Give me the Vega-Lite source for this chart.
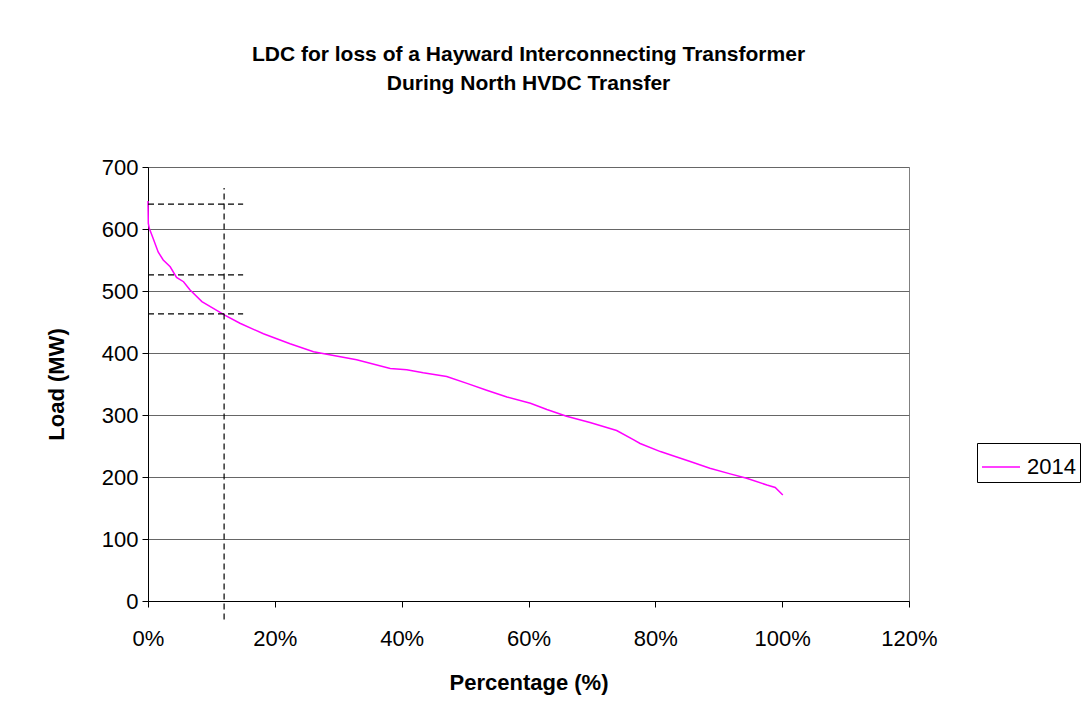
{
  "$schema": "https://vega.github.io/schema/vega-lite/v6.json",
  "width": 761,
  "height": 434,
  "autosize": {"type": "none"},
  "padding": {"left": 148, "top": 167, "right": 179, "bottom": 112},
  "background": "white",
  "config": {
    "font": "Liberation Sans",
    "view": {"stroke": "#808080", "strokeWidth": 1}
  },
  "title": {
    "text": ["LDC for loss of a Hayward Interconnecting Transformer", "During North HVDC Transfer"],
    "font": "Liberation Sans",
    "fontSize": 21,
    "fontWeight": "bold",
    "color": "black",
    "anchor": "middle",
    "frame": "group",
    "lineHeight": 29,
    "offset": 62
  },
  "datasets": {
    "curve": [
      {"pct": 0.0, "load": 645, "series": "2014"},
      {"pct": 0.0005, "load": 609, "series": "2014"},
      {"pct": 0.002, "load": 601, "series": "2014"},
      {"pct": 0.008, "load": 585, "series": "2014"},
      {"pct": 0.016, "load": 563, "series": "2014"},
      {"pct": 0.024, "load": 550, "series": "2014"},
      {"pct": 0.035, "load": 539, "series": "2014"},
      {"pct": 0.045, "load": 522, "series": "2014"},
      {"pct": 0.056, "load": 515, "series": "2014"},
      {"pct": 0.066, "load": 502, "series": "2014"},
      {"pct": 0.085, "load": 483, "series": "2014"},
      {"pct": 0.103, "load": 472, "series": "2014"},
      {"pct": 0.121, "load": 461, "series": "2014"},
      {"pct": 0.145, "load": 448, "series": "2014"},
      {"pct": 0.182, "load": 431, "series": "2014"},
      {"pct": 0.224, "load": 415, "series": "2014"},
      {"pct": 0.261, "load": 402, "series": "2014"},
      {"pct": 0.282, "load": 398, "series": "2014"},
      {"pct": 0.329, "load": 389, "series": "2014"},
      {"pct": 0.382, "load": 375, "series": "2014"},
      {"pct": 0.408, "load": 373, "series": "2014"},
      {"pct": 0.434, "load": 368, "series": "2014"},
      {"pct": 0.471, "load": 362, "series": "2014"},
      {"pct": 0.503, "load": 351, "series": "2014"},
      {"pct": 0.534, "load": 340, "series": "2014"},
      {"pct": 0.566, "load": 329, "series": "2014"},
      {"pct": 0.603, "load": 319, "series": "2014"},
      {"pct": 0.629, "load": 309, "series": "2014"},
      {"pct": 0.660, "load": 298, "series": "2014"},
      {"pct": 0.697, "load": 288, "series": "2014"},
      {"pct": 0.739, "load": 275, "series": "2014"},
      {"pct": 0.766, "load": 260, "series": "2014"},
      {"pct": 0.776, "load": 254, "series": "2014"},
      {"pct": 0.808, "load": 241, "series": "2014"},
      {"pct": 0.829, "load": 234, "series": "2014"},
      {"pct": 0.855, "load": 225, "series": "2014"},
      {"pct": 0.886, "load": 214, "series": "2014"},
      {"pct": 0.918, "load": 205, "series": "2014"},
      {"pct": 0.944, "load": 198, "series": "2014"},
      {"pct": 0.976, "load": 187, "series": "2014"},
      {"pct": 0.989, "load": 183, "series": "2014"},
      {"pct": 1.001, "load": 171, "series": "2014"}
    ],
    "hlines": [
      {"x1": 0, "x2": 0.15, "y": 640},
      {"x1": 0, "x2": 0.15, "y": 526},
      {"x1": 0, "x2": 0.15, "y": 463}
    ],
    "vline": [
      {"x": 0.12, "y1": -30, "y2": 666}
    ]
  },
  "layer": [
    {
      "data": {"name": "curve"},
      "mark": {"type": "line", "strokeWidth": 1.5, "interpolate": "linear"},
      "encoding": {
        "x": {
          "field": "pct", "type": "quantitative",
          "scale": {"domain": [0, 1.2], "nice": false, "zero": true},
          "axis": {
            "title": "Percentage (%)",
            "format": ".0%",
            "values": [0, 0.2, 0.4, 0.6, 0.8, 1.0, 1.2],
            "grid": false,
            "labelFlush": false,
            "domainColor": "black",
            "tickColor": "black",
            "tickSize": 6,
            "labelFontSize": 22,
            "labelColor": "black",
            "labelFont": "Liberation Sans",
            "labelPadding": 21,
            "titleFontSize": 22,
            "titleFontWeight": "bold",
            "titleColor": "black",
            "titleFont": "Liberation Sans",
            "titlePadding": 23
          }
        },
        "y": {
          "field": "load", "type": "quantitative",
          "scale": {"domain": [0, 700], "nice": false},
          "axis": {
            "title": "Load (MW)",
            "values": [0, 100, 200, 300, 400, 500, 600, 700],
            "grid": true,
            "gridColor": "#666666",
            "gridWidth": 1,
            "domainColor": "black",
            "tickColor": "black",
            "tickSize": 6,
            "labelFontSize": 22,
            "labelColor": "black",
            "labelFont": "Liberation Sans",
            "labelPadding": 4,
            "titleFontSize": 22,
            "titleFontWeight": "bold",
            "titleColor": "black",
            "titleFont": "Liberation Sans",
            "titlePadding": 33
          }
        },
        "color": {
          "field": "series", "type": "nominal",
          "scale": {"range": ["#FF00FF"]},
          "legend": {
            "title": null,
            "orient": "none",
            "legendX": 829,
            "legendY": 276,
            "symbolType": "stroke",
            "symbolSize": 1444,
            "symbolStrokeWidth": 1.5,
            "labelFontSize": 22,
            "labelColor": "black",
            "labelFont": "Liberation Sans",
            "labelOffset": 6,
            "strokeColor": "black",
            "padding": 4,
            "fillColor": "white"
          }
        }
      }
    },
    {
      "data": {"name": "hlines"},
      "mark": {"type": "rule", "color": "black", "strokeDash": [6, 4], "strokeWidth": 1.2},
      "encoding": {
        "x": {"field": "x1", "type": "quantitative"},
        "x2": {"field": "x2"},
        "y": {"field": "y", "type": "quantitative"}
      }
    },
    {
      "data": {"name": "vline"},
      "mark": {"type": "rule", "color": "black", "strokeDash": [6, 4], "strokeWidth": 1.2},
      "encoding": {
        "x": {"field": "x", "type": "quantitative"},
        "y": {"field": "y1", "type": "quantitative"},
        "y2": {"field": "y2"}
      }
    }
  ]
}
